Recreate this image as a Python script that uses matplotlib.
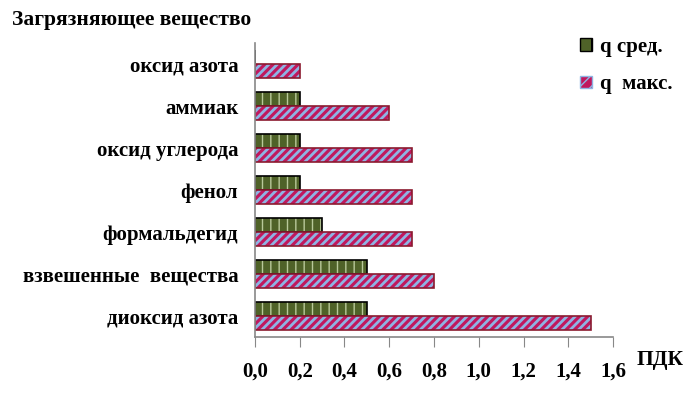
import numpy as np
import matplotlib.pyplot as plt
from matplotlib.patches import Patch

plt.rcParams['font.family'] = ['Liberation Serif', 'DejaVu Serif']
plt.rcParams['font.weight'] = 'bold'

categories = ['диоксид азота', 'взвешенные  вещества', 'формальдегид', 'фенол',
              'оксид углерода', 'аммиак', 'оксид азота']
q_sred = [0.5, 0.5, 0.3, 0.2, 0.2, 0.2, 0.0]
q_maks = [1.5, 0.8, 0.7, 0.7, 0.7, 0.6, 0.2]
xticks = np.arange(0, 1.61, 0.2)
xticklabels = ['0,0', '0,2', '0,4', '0,6', '0,8', '1,0', '1,2', '1,4', '1,6']

green = '#4F6228'
green_hatch = '#B9C99A'
red = '#C0185E'
red_hatch = '#8EB4E3'

fig = plt.figure(figsize=(6.86, 3.93), dpi=100)
ax = fig.add_axes([0.3717, 0.1425, 0.5219, 0.748])

y = np.arange(len(categories))
h = 0.335
# q сред. (above), q макс. (below)
with plt.rc_context({'hatch.linewidth': 1.0}):
    ax.barh(y + h / 2, q_sred, height=h, color=green, edgecolor=green_hatch,
            hatch='||', linewidth=0)
ax.barh(y + h / 2, q_sred, height=h, fill=False, edgecolor='black', linewidth=1.2)
with plt.rc_context({'hatch.linewidth': 2.0}):
    ax.barh(y - h / 2, q_maks, height=h, color=red, edgecolor=red_hatch,
            hatch='////', linewidth=0)
ax.barh(y - h / 2, q_maks, height=h, fill=False, edgecolor='#8B1A2F', linewidth=1.2)

ax.set_xlim(0, 1.6)
ax.set_ylim(-0.5, len(categories) - 0.5)
ax.set_xticks(xticks)
ax.set_xticklabels(xticklabels, fontsize=15, fontweight='bold')
ax.set_yticks(y)
ax.set_yticklabels(categories, fontsize=15, fontweight='bold')
ax.tick_params(axis='y', length=0, pad=12)
ax.tick_params(axis='x', length=7, color='#888888', pad=11, direction='out')
for s in ['top', 'right']:
    ax.spines[s].set_visible(False)
for s in ['left', 'bottom']:
    ax.spines[s].set_color('#888888')
    ax.spines[s].set_linewidth(1.2)

fig.text(0.018, 0.95, 'Загрязняющее вещество', fontsize=15.5, fontweight='bold',
         va='center', ha='left')
fig.text(0.928, 0.085, 'ПДК', fontsize=15.5, fontweight='bold', va='center', ha='left')

with plt.rc_context({'hatch.linewidth': 1.5}):
    handles = [Patch(facecolor=green, edgecolor='black', hatch='|', linewidth=1),
               Patch(facecolor=red, edgecolor=red_hatch, hatch='///', linewidth=1)]
fig.legend(handles, ['q сред.', 'q  макс.'], loc='upper left',
           bbox_to_anchor=(0.834, 0.928), frameon=False, fontsize=15,
           handlelength=0.55, handleheight=0.55, handletextpad=0.4,
           labelspacing=0.85, borderaxespad=0)

fig.savefig('out.png', dpi=100)
